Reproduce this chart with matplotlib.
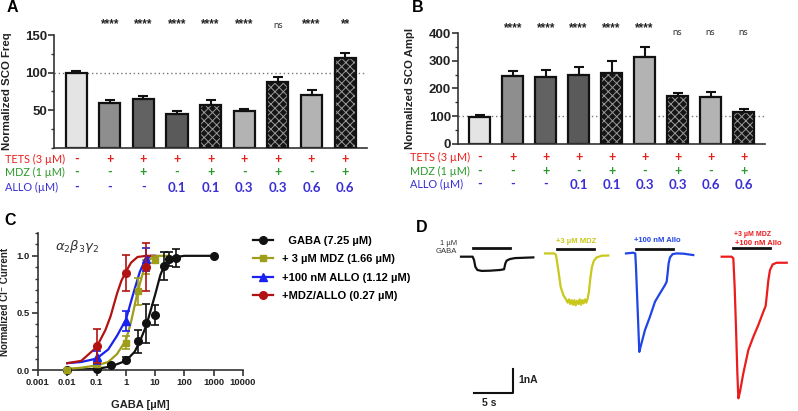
import matplotlib
matplotlib.use('Agg')
import matplotlib.pyplot as plt
import numpy as np
from matplotlib.lines import Line2D
from matplotlib.ticker import FixedLocator

plt.rcParams['font.family'] = ['Liberation Sans', 'DejaVu Sans']
plt.rcParams['hatch.linewidth'] = 0.7

# ---------------- data: panels A / B ----------------
freq_mean = [100, 60, 65, 45, 57.5, 48.5, 87, 70.5, 119]
freq_err = [2, 3.5, 4, 4.5, 6, 3.5, 7, 6, 7.5]
freq_sig = ['', '****', '****', '****', '****', '****', 'ns', '****', '**']
ampl_mean = [98, 245, 240, 250, 255, 315, 172, 170, 114]
ampl_err = [5, 18, 27, 27, 44, 34, 12, 17, 13]
ampl_sig = ['', '****', '****', '****', '****', '****', 'ns', 'ns', 'ns']
tets_row = ['-', '+', '+', '+', '+', '+', '+', '+', '+']
mdz_row = ['-', '-', '+', '-', '+', '-', '+', '-', '+']
allo_row = ['-', '-', '-', '0.1', '0.1', '0.3', '0.3', '0.6', '0.6']
row_names = ['TETS (3 µM)', 'MDZ (1 µM)', 'ALLO (µM)']

# ---------------- data: panel C ----------------
gaba_x = [0.01, 0.1, 0.3, 1, 2.5, 5, 10, 20, 30, 50, 1000]
gaba_y = [0.0, 0.01, 0.04, 0.09, 0.25, 0.41, 0.48, 0.91, 0.97, 0.98, 1.0]
gaba_e = [0.0, 0.0, 0.01, 0.02, 0.10, 0.17, 0.09, 0.12, 0.06, 0.08, 0.0]
mdz_x = [0.01, 0.1, 1, 2.5, 5, 10]
mdz_y = [0.0, 0.05, 0.24, 0.69, 0.90, 0.965]
mdz_e = [0.0, 0.01, 0.06, 0.12, 0.06, 0.03]
allo_x = [0.1, 1, 5]
allo_y = [0.11, 0.43, 0.97]
allo_e = [0.06, 0.09, 0.10]
combo_x = [0.1, 1, 5]
combo_y = [0.21, 0.85, 0.90]
combo_e = [0.15, 0.16, 0.21]

gaba_fit_x = [0.01, 0.1, 0.3, 1, 2, 3, 5, 7, 10, 15, 20, 30, 50, 100, 1000]
gaba_fit_y = [0.0, 0.01, 0.03, 0.08, 0.16, 0.25, 0.39, 0.52, 0.66, 0.83, 0.91, 0.97, 0.99, 1.0, 1.0]
mdz_fit_x = [0.01, 0.03, 0.1, 0.25, 0.5, 1, 1.5, 2.5, 4, 6.5, 12, 30]
mdz_fit_y = [0.01, 0.02, 0.04, 0.07, 0.14, 0.26, 0.42, 0.68, 0.87, 0.97, 1.0, 1.0]
allo_fit_x = [0.01, 0.03, 0.1, 0.25, 0.5, 1, 1.5, 2, 3, 4.5, 7, 10]
allo_fit_y = [0.06, 0.07, 0.10, 0.18, 0.30, 0.44, 0.60, 0.71, 0.86, 0.96, 1.0, 1.0]
combo_fit_x = [0.01, 0.03, 0.1, 0.2, 0.3, 0.5, 0.7, 1, 1.5, 2.5, 5, 10]
combo_fit_y = [0.06, 0.08, 0.20, 0.35, 0.47, 0.67, 0.78, 0.86, 0.94, 0.99, 1.0, 1.0]
legend_labels = ['  GABA (7.25 µM)', '+ 3 µM MDZ (1.66 µM)', '+100 nM ALLO (1.12 µM)', '+MDZ/ALLO (0.27 µM)']

# ---------------- data: panel D (traces, s and nA relative to application start / baseline) ----------------
ctrl_t = [-1.59, -0.09, 0.09, 0.26, 0.52, 1.08, 2.16, 3.45, 3.97, 4.05, 4.14, 4.31, 4.74, 5.39, 7.76]
ctrl_i = [0, 0, -0.14, -0.43, -0.57, -0.61, -0.60, -0.57, -0.54, -0.43, -0.29, -0.17, -0.10, -0.06, -0.03]
mdzt_t = [-1.59, -0.39, -0.17, 0.13, 0.43, 0.78, 1.12, 1.34, 1.51, 1.68, 1.85, 2.03, 2.20, 2.37, 2.54, 2.72,
          2.89, 3.06, 3.23, 3.40, 3.58, 3.75, 3.92, 4.09, 4.27, 4.48, 4.74, 5.09, 5.73, 6.59]
mdzt_i = [0, 0, -0.07, -0.71, -1.43, -1.79, -1.97, -2.11, -1.97, -2.17, -2.00, -2.20, -2.00, -2.23, -2.03, -2.17,
          -1.97, -2.20, -2.00, -2.14, -1.97, -2.11, -1.94, -1.64, -1.07, -0.57, -0.31, -0.17, -0.10, -0.09]
allot_t = [-1.29, -0.34, -0.09, 0, 0.17, 0.34, 0.43, 0.60, 1.16, 1.81, 2.46, 3.10, 3.75, 3.97, 4.09, 4.22,
           4.40, 4.74, 5.26, 6.12, 7.41]
allot_i = [0, 0.03, 0, -0.57, -2.00, -3.43, -4.22, -4.00, -3.29, -2.71, -2.07, -1.71, -1.36, -1.21, -0.86, -0.43,
           -0.17, -0.03, 0, -0.01, -0.07]
combt_t = [-1.51, -0.22, 0, 0.17, 0.34, 0.52, 0.65, 0.86, 1.29, 1.94, 2.59, 3.23, 3.88, 4.18, 4.31, 4.53,
           4.74, 5.09, 5.60, 6.90]
combt_i = [0, 0, -0.07, -1.29, -3.00, -5.00, -6.07, -5.79, -5.00, -4.00, -3.43, -2.93, -2.36, -2.11, -1.71, -1.00,
           -0.57, -0.33, -0.26, -0.26]
application_s = 4.8

# ---------------- figure ----------------
W, H = 798, 411
fig = plt.figure(figsize=(W / 100, H / 100), dpi=100)


def fx(px):
    return px / W


def fy(px):
    return 1 - px / H


fills = ['#e4e4e4', '#8e8e8e', '#626262', '#5a5a5a', 'check', '#b3b3b3', 'check', '#b3b3b3', 'check']
row_colors = ['#e8201c', '#2c9a2c', '#3a2fd4']


def bar_panel(ax, means, errs, sigs, ylim, major, minor, ylabel, star_y, ns_y, row_y, row_x_fig, label_x):
    x = np.arange(len(means))
    for xi, m, f in zip(x, means, fills):
        if f == 'check':
            ax.bar(xi, m, width=0.63, color='#151515', edgecolor='#9a9a9a', hatch='xxxx', linewidth=0, zorder=2)
            ax.bar(xi, m, width=0.63, fill=False, edgecolor='#111111', linewidth=1.6, zorder=3)
        else:
            ax.bar(xi, m, width=0.63, color=f, edgecolor='#111111', linewidth=1.6, zorder=2)
    ax.errorbar(x, means, yerr=[np.zeros(len(errs)), errs], fmt='none', ecolor='#111111',
                elinewidth=1.5, capsize=3.5, capthick=1.5, zorder=4)
    ax.axhline(100, color='#777777', linestyle=(0, (1, 2)), linewidth=1.0, zorder=1)
    ax.set_xlim(-0.66, 8.65)
    ax.set_ylim(*ylim)
    ax.spines['top'].set_visible(False)
    ax.spines['right'].set_visible(False)
    for s in ['left', 'bottom']:
        ax.spines[s].set_linewidth(1.2)
        ax.spines[s].set_color('#333333')
    ax.set_xticks([])
    ax.yaxis.set_major_locator(FixedLocator(major))
    ax.yaxis.set_minor_locator(FixedLocator(minor))
    ax.tick_params(axis='y', which='major', length=4, width=1.2, labelsize=9.5, pad=1, colors='#333333',
                   labelcolor='#222222')
    ax.tick_params(axis='y', which='minor', length=2.5, width=1.0, colors='#333333')
    for t in ax.get_yticklabels():
        t.set_fontweight('bold')
    ax.set_ylabel(ylabel, fontsize=8.2, fontweight='bold', color='#222222')
    ax.yaxis.set_label_coords(label_x, 0.5)
    tr = ax.get_xaxis_transform()
    for xi, s in zip(x, sigs):
        if s == 'ns':
            ax.text(xi, ns_y, s, transform=tr, ha='center', va='center', fontsize=7, color='#333333',
                    family=['Lato', 'DejaVu Sans'])
        elif s:
            ax.text(xi, star_y, s, transform=tr, ha='center', va='center', fontsize=8.5, fontweight='bold',
                    color='#222222')
    for row, ry, col, name in zip([tets_row, mdz_row, allo_row], row_y, row_colors, row_names):
        fig.text(fx(row_x_fig), fy(ry), name, color=col, fontsize=7.8, ha='left', va='center',
                 family=['Lato', 'DejaVu Sans'])
        for xi, v in zip(x, row):
            big = v not in ('+', '-')
            disp = ax.transData.transform((xi, 0))[0] / fig.bbox.width
            fig.text(disp, fy(ry + (1 if big else 0)), v, color=col, fontsize=9.5 if big else 9,
                     fontweight='bold', ha='center', va='center', family=['Lato', 'DejaVu Sans'])
    return x


axA = fig.add_axes([fx(54), fy(148), fx(367 - 54), (148 - 35) / H])
bar_panel(axA, freq_mean, freq_err, freq_sig, (0, 150), [50, 100, 150], [0, 25, 75, 125],
          'Normalized SCO Freq', star_y=1.10, ns_y=1.08, row_y=[159, 172, 187], row_x_fig=5, label_x=-0.135)

axB = fig.add_axes([fx(458), fy(144), fx(765 - 458), (144 - 33) / H])
bar_panel(axB, ampl_mean, ampl_err, ampl_sig, (0, 400), [0, 100, 200, 300, 400], [50, 150, 250, 350],
          'Normalized SCO Ampl', star_y=1.045, ns_y=1.005, row_y=[157, 171, 184], row_x_fig=410, label_x=-0.14)

fig.text(fx(7), fy(8), 'A', fontsize=11.5, fontweight='bold', va='center', ha='left')
fig.text(fx(412), fy(8), 'B', fontsize=11.5, fontweight='bold', va='center', ha='left')

# ---------------- panel C ----------------
axC = fig.add_axes([fx(38), fy(370), fx(243 - 38), (370 - 233) / H])
c_black, c_olive, c_blue, c_red = '#111111', '#9e9e1a', '#1a22ee', '#b31212'
series = [
    (gaba_x, gaba_y, gaba_e, gaba_fit_x, gaba_fit_y, c_black, 'o', 5.5),
    (mdz_x, mdz_y, mdz_e, mdz_fit_x, mdz_fit_y, c_olive, 's', 4.5),
    (allo_x, allo_y, allo_e, allo_fit_x, allo_fit_y, c_blue, '^', 5.5),
    (combo_x, combo_y, combo_e, combo_fit_x, combo_fit_y, c_red, 'o', 5.5),
]
handles = []
for zi, (xs, ys, es, fxs, fys, col, mk, ms) in enumerate(series):
    axC.plot(fxs, fys, color=col, linewidth=1.6, zorder=2 + zi, clip_on=False)
    axC.errorbar(xs, ys, yerr=es, fmt=mk, color=col, markersize=ms, elinewidth=1.2, capsize=3, capthick=1.2,
                 zorder=6 + zi, clip_on=False)
    handles.append(Line2D([0], [0], color=col, marker=mk, markersize=ms, linewidth=1.6))
axC.set_xscale('log')
axC.set_xlim(0.001, 10000)
axC.set_ylim(0, 1.2)
axC.spines['top'].set_visible(False)
axC.spines['right'].set_visible(False)
for s in ['left', 'bottom']:
    axC.spines[s].set_linewidth(1.2)
    axC.spines[s].set_color('#333333')
xt = [0.001, 0.01, 0.1, 1, 10, 100, 1000, 10000]
axC.set_xticks(xt)
axC.set_xticklabels(['0.001', '0.01', '0.1', '1', '10', '100', '1000', '10000'])
axC.xaxis.set_minor_locator(FixedLocator([]))
axC.set_yticks([0, 0.5, 1.0])
axC.set_yticklabels(['0.0', '0.5', '1.0'])
axC.yaxis.set_minor_locator(FixedLocator([0.1, 0.2, 0.3, 0.4, 0.6, 0.7, 0.8, 0.9, 1.1, 1.2]))
axC.tick_params(axis='both', which='major', length=4, width=1.2, labelsize=6.8, pad=2, colors='#333333',
                labelcolor='#222222')
axC.tick_params(axis='y', which='minor', length=2, width=1.0, colors='#333333')
for t in axC.get_xticklabels() + axC.get_yticklabels():
    t.set_fontweight('bold')
axC.set_ylabel('Normalized Cl⁻ Current', fontsize=7, fontweight='bold', color='#222222')
axC.yaxis.set_label_coords(-0.135, 0.5)
axC.set_xlabel('GABA [µM]', fontsize=8, fontweight='bold', color='#222222', labelpad=9)
axC.text(0.083, 0.9, r'$\alpha_2\beta_3\gamma_2$', transform=axC.transAxes, fontsize=9.5, color='#333333',
         ha='left', va='center')
fig.legend(handles, legend_labels, loc='upper left', bbox_to_anchor=(fx(253), fy(236)), frameon=False,
           prop={'weight': 'bold', 'size': 8}, handlelength=1.8, handletextpad=0.8, labelspacing=0.75,
           borderaxespad=0, borderpad=0)
fig.text(fx(4), fy(220), 'C', fontsize=11.5, fontweight='bold', va='center', ha='left')

# ---------------- panel D ----------------
axD = fig.add_axes([fx(400), 0, fx(398), 211 / H])
s_per_px = 5 / 38.67
nA_per_px = 1 / 23.33
axD.set_xlim(0, 398 * s_per_px)
axD.set_ylim(-211 * nA_per_px, 0)
axD.axis('off')
trace_pos = [(9.48, -2.43, 0.36), (20.34, -2.29, 0.21), (30.51, -2.29, 0.21), (43.1, -2.43, 0.39)]
trace_cols = ['#111111', '#c9c81c', '#1f45e6', '#ec1c1c']
traces = [(ctrl_t, ctrl_i), (mdzt_t, mdzt_i), (allot_t, allot_i), (combt_t, combt_i)]
for (t0, i0, bar_dy), col, (tt, ii) in zip(trace_pos, trace_cols, traces):
    axD.plot(np.array(tt) + t0, np.array(ii) + i0, color=col, linewidth=1.6, solid_joinstyle='round')
    axD.plot([t0, t0 + application_s], [i0 + bar_dy, i0 + bar_dy], color='#111111', linewidth=2)
axD.text(7.4, -2.03, '1 µM\nGABA', fontsize=5.5, ha='right', va='center', color='#333333', linespacing=1.1)
axD.text(22.76, -1.80, '+3 µM MDZ', fontsize=5.5, fontweight='bold', ha='center', va='center', color='#c9c81c')
axD.text(33.27, -1.74, '+100 nM Allo', fontsize=5.5, fontweight='bold', ha='center', va='center', color='#1f45e6')
axD.text(45.6, -1.50, '+3 µM MDZ', fontsize=5, fontweight='bold', ha='center', va='center', color='#ec1c1c')
axD.text(46.3, -1.86, '+100 nM Allo', fontsize=5.5, fontweight='bold', ha='center', va='center', color='#ec1c1c')
# scale bar
sb_t, sb_i = 14.57, -8.26
axD.plot([sb_t - 5, sb_t, sb_t], [sb_i, sb_i, sb_i + 1], color='#111111', linewidth=1.5)
axD.text(sb_t + 0.75, sb_i + 0.55, '1nA', fontsize=7.5, fontweight='bold', ha='left', va='center', color='#222222')
axD.text(sb_t - 3.1, sb_i - 0.42, '5 s', fontsize=7.5, fontweight='bold', ha='center', va='center', color='#222222')
fig.text(fx(416), fy(227), 'D', fontsize=11.5, fontweight='bold', va='center', ha='left')

fig.savefig('out.png', dpi=100)
